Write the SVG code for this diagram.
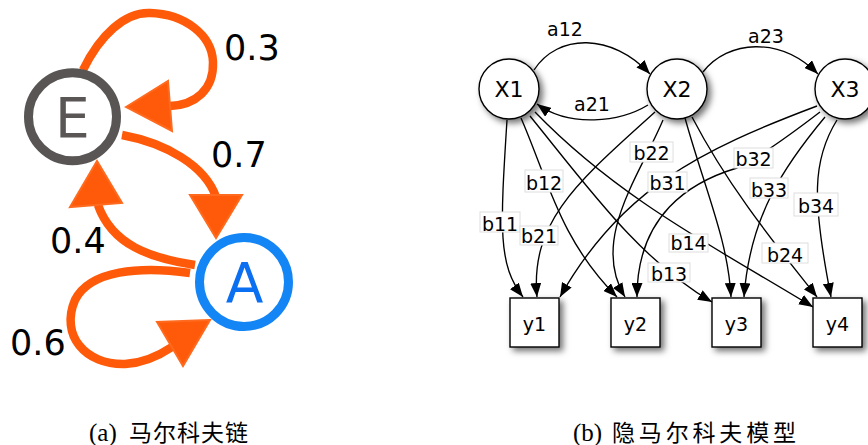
<svg xmlns="http://www.w3.org/2000/svg" width="868" height="445" viewBox="0 0 868 445">
  <defs>
    <style>
      .flow { fill: none; stroke: #ff5a0a; stroke-width: 8.5; }
      .head { fill: #ff5a0a; stroke: #ff6a1e; stroke-width: 2; stroke-linejoin: miter; }
      .prob { font-family: "DejaVu Sans", sans-serif; font-size: 35px; fill: #000; }
      .state { font-family: "DejaVu Sans", sans-serif; font-size: 55px; text-anchor: middle; }
      .hid { fill: #fff; stroke: #000; stroke-width: 1.4; filter: url(#shade); }
      .obs { fill: #fff; stroke: #000; stroke-width: 1.4; filter: url(#shade); }
      .nlab { font-family: "DejaVu Sans", sans-serif; font-size: 22px; text-anchor: middle; fill: #000; }
      .olab { font-family: "DejaVu Sans", sans-serif; font-size: 19px; text-anchor: middle; fill: #000; }
      .edge { fill: none; stroke: #000; stroke-width: 1.35; marker-end: url(#tip); }
      .elab { font-family: "DejaVu Sans", sans-serif; font-size: 19px; text-anchor: middle; fill: #000; }
      .ebox { fill: #fff; stroke: #dedede; stroke-width: 1; }
      .cap { font-family: "Liberation Serif", serif; font-size: 25px; fill: #000; }
      .capcjk { font-family: "Liberation Serif", "Noto Sans CJK SC", sans-serif; font-size: 23px; fill: #000; }
    </style>
    <filter id="shade" x="-30%" y="-30%" width="170%" height="170%">
      <feDropShadow dx="3.5" dy="3.5" stdDeviation="3" flood-color="#000" flood-opacity="0.55"/>
    </filter>
    <marker id="tip" viewBox="0 0 14 11" refX="14" refY="5.5" markerWidth="14" markerHeight="11" markerUnits="userSpaceOnUse" orient="auto">
      <path d="M0,0 L14,5.5 L0,11 z" fill="#000"/>
    </marker>
  </defs>

  <!-- (a) Markov chain -->
  <g id="markov-edges">
    <path class="flow" d="M83,70 C 100,35 125,12 150,13 C 185,14 212,35 213,62 C 214,90 195,105 170,106"/>
    <polygon class="head" points="126,107 168,81 172,131"/>
    <path class="flow" d="M122,135 C 165,143 205,165 216,197"/>
    <polygon class="head" points="216,238 190,195 242,195"/>
    <path class="flow" d="M195,265 C 150,258 112,245 98,205"/>
    <polygon class="head" points="97,161 70,207 122,203"/>
    <path class="flow" d="M190,273 C 140,266 90,270 75,300 C 60,335 85,365 125,364 C 145,363 160,355 172,347"/>
    <polygon class="head" points="210,320 157,322 183,366"/>
  </g>
  <g id="state-E">
    <circle cx="72.5" cy="116.7" r="44" fill="#fff" stroke="#595555" stroke-width="9"/>
    <text class="state" x="72.5" y="136.5" fill="#5a5656">E</text>
  </g>
  <g id="state-A">
    <circle cx="244" cy="282" r="44.5" fill="#fff" stroke="#1485f5" stroke-width="9"/>
    <text class="state" x="244.5" y="302" fill="#0a6ff0">A</text>
  </g>
  <g id="markov-labels">
    <text class="prob" x="224" y="60">0.3</text>
    <text class="prob" x="211" y="167">0.7</text>
    <text class="prob" x="50" y="253">0.4</text>
    <text class="prob" x="10" y="355">0.6</text>
  </g>

  <!-- (b) hidden Markov model -->
  <g id="hmm-edges">
    <!-- transitions -->
    <path class="edge" d="M534,70 C 558,33 612,33 650,74"/>
    <path class="edge" d="M703,72 C 728,40 780,36 818,74"/>
    <path class="edge" d="M648,105 C 620,122 570,128 537,104"/>
    <!-- emissions from X1 -->
    <path class="edge" d="M507,120 C 500,230 498,265 523,297"/>
    <path class="edge" d="M521,118 C 548,180 560,240 617,297"/>
    <path class="edge" d="M530,116 C 590,190 640,260 712,302"/>
    <path class="edge" d="M535,112 C 620,200 720,250 813,307"/>
    <!-- emissions from X2 -->
    <path class="edge" d="M655,112 C 580,180 530,220 537,297"/>
    <path class="edge" d="M663,120 C 640,175 590,240 625,297"/>
    <path class="edge" d="M685,118 C 705,190 728,240 731,297"/>
    <path class="edge" d="M692,117 C 730,190 780,250 817,297"/>
    <!-- emissions from X3 -->
    <path class="edge" d="M817,106 C 700,150 620,190 560,297"/>
    <path class="edge" d="M820,112 C 790,135 760,157 737,168 C 690,182 637,215 637,297"/>
    <path class="edge" d="M825,117 C 785,165 750,215 744,297"/>
    <path class="edge" d="M837,120 C 812,160 812,200 831,297"/>
  </g>
  <g id="hmm-edge-labels">
    <text class="elab" x="565" y="36">a12</text>
    <text class="elab" x="766" y="43">a23</text>
    <text class="elab" x="592" y="111">a21</text>

    <rect class="ebox" x="630" y="142" width="43" height="20"/>
    <text class="elab" x="651.5" y="160">b22</text>
    <rect class="ebox" x="734" y="148" width="39" height="20"/>
    <text class="elab" x="753.5" y="166">b32</text>
    <rect class="ebox" x="525" y="170" width="38" height="22"/>
    <text class="elab" x="544" y="189.5">b12</text>
    <rect class="ebox" x="648" y="172" width="39" height="20"/>
    <text class="elab" x="667.5" y="190">b31</text>
    <rect class="ebox" x="750" y="178" width="38" height="20"/>
    <text class="elab" x="769" y="196.5">b33</text>
    <rect class="ebox" x="794" y="193" width="44" height="23"/>
    <text class="elab" x="816" y="213">b34</text>
    <rect class="ebox" x="480" y="212" width="40" height="20"/>
    <text class="elab" x="500" y="230.5">b11</text>
    <rect class="ebox" x="520" y="226" width="38" height="19"/>
    <text class="elab" x="539" y="243">b21</text>
    <rect class="ebox" x="669" y="234" width="39" height="18"/>
    <text class="elab" x="688.5" y="250">b14</text>
    <rect class="ebox" x="762" y="243" width="46" height="20"/>
    <text class="elab" x="785" y="261.5">b24</text>
    <rect class="ebox" x="648" y="263" width="42" height="19"/>
    <text class="elab" x="669" y="280.5">b13</text>
  </g>

  <g id="X1">
    <circle class="hid" cx="509" cy="89" r="30"/>
    <text class="nlab" x="509" y="97">X1</text>
  </g>
  <g id="X2">
    <circle class="hid" cx="677" cy="89" r="30"/>
    <text class="nlab" x="677" y="97">X2</text>
  </g>
  <g id="X3">
    <circle class="hid" cx="845" cy="89" r="30"/>
    <text class="nlab" x="845" y="97">X3</text>
  </g>

  <g id="y1">
    <rect class="obs" x="510" y="298" width="49" height="49"/>
    <text class="olab" x="534.5" y="331">y1</text>
  </g>
  <g id="y2">
    <rect class="obs" x="611" y="298" width="49" height="49"/>
    <text class="olab" x="635.5" y="331">y2</text>
  </g>
  <g id="y3">
    <rect class="obs" x="712" y="298" width="49" height="49"/>
    <text class="olab" x="736.5" y="331">y3</text>
  </g>
  <g id="y4">
    <rect class="obs" x="813" y="298" width="49" height="49"/>
    <text class="olab" x="837.5" y="331">y4</text>
  </g>

  <!-- captions -->
  <g id="captions">
    <text class="cap" x="89" y="441">(a)</text>
    <text class="capcjk" x="129" y="441" textLength="119" lengthAdjust="spacing">马尔科夫链</text>
    <text class="cap" x="573" y="441">(b)</text>
    <text class="capcjk" x="612" y="441" font-size="25" textLength="184" lengthAdjust="spacing">隐马尔科夫模型</text>
  </g>
</svg>
